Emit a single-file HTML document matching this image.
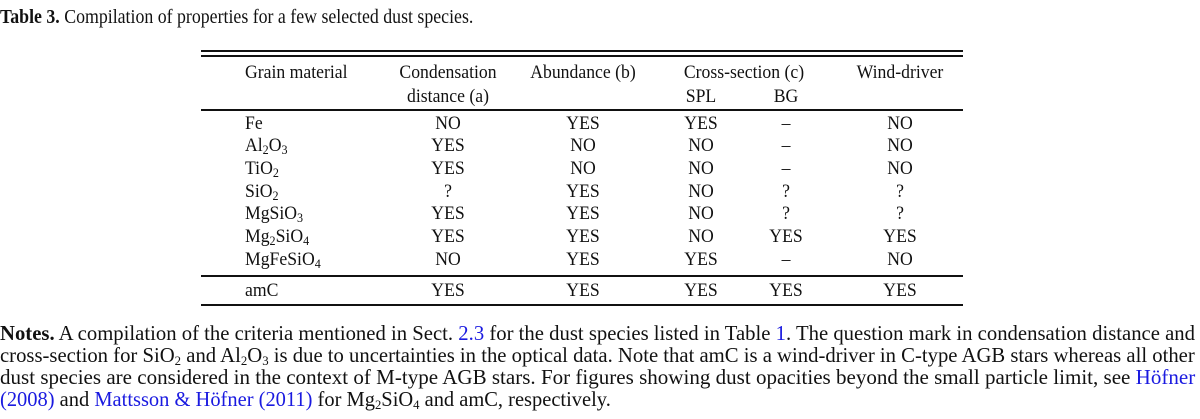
<!DOCTYPE html>
<html><head><meta charset="utf-8">
<style>
html,body{margin:0;padding:0;background:#fff;}
body{width:1200px;height:419px;position:relative;overflow:hidden;font-family:"Liberation Serif","DejaVu Serif",serif;color:#111;}
.fit{position:absolute;white-space:nowrap;font-size:21px;line-height:22px;transform-origin:0 50%;}
.c{position:absolute;white-space:nowrap;font-size:19px;line-height:22px;transform:translateX(-50%) scaleX(0.93);}
.l{position:absolute;white-space:nowrap;font-size:19px;line-height:22px;transform-origin:0 50%;transform:scaleX(0.93);}
.rule{position:absolute;left:201px;width:762px;background:#111;}
a{color:#1a1ae0;text-decoration:none;}
sub{font-size:13px;vertical-align:-3px;line-height:0;}
</style></head><body>
<div class="fit" data-w="473" style="left:0;top:6px;font-size:20px;"><b>Table 3.</b> Compilation of properties for a few selected dust species.</div>

<div class="rule" style="top:50px;height:2px;"></div>
<div class="rule" style="top:55px;height:2px;"></div>
<div class="rule" style="top:109px;height:2px;"></div>
<div class="rule" style="top:275px;height:2px;"></div>
<div class="rule" style="top:304px;height:2px;"></div>

<div class="l" style="left:245px;top:62px;">Grain material</div>
<div class="c" style="left:448px;top:62px;">Condensation</div>
<div class="c" style="left:448px;top:86px;">distance (a)</div>
<div class="c" style="left:583px;top:62px;">Abundance (b)</div>
<div class="c" style="left:744px;top:62px;">Cross-section (c)</div>
<div class="c" style="left:701px;top:86px;">SPL</div>
<div class="c" style="left:786px;top:86px;">BG</div>
<div class="c" style="left:900px;top:62px;">Wind-driver</div>

<div id="rows"></div>

<div class="fit" data-w="1195" style="left:0;top:322px;"><b>Notes.</b> A compilation of the criteria mentioned in Sect. <a>2.3</a> for the dust species listed in Table <a>1</a>. The question mark in condensation distance and</div>
<div class="fit" data-w="1195" style="left:0;top:344px;">cross-section for SiO<sub>2</sub> and Al<sub>2</sub>O<sub>3</sub> is due to uncertainties in the optical data. Note that amC is a wind-driver in C-type AGB stars whereas all other</div>
<div class="fit" data-w="1195" style="left:0;top:366px;">dust species are considered in the context of M-type AGB stars. For figures showing dust opacities beyond the small particle limit, see <a>Höfner</a></div>
<div class="fit" data-w="611" style="left:0;top:388px;"><a>(2008)</a> and <a>Mattsson &amp; Höfner</a> <a>(2011)</a> for Mg<sub>2</sub>SiO<sub>4</sub> and amC, respectively.</div>

<script>
const materials=["Fe","Al<sub>2</sub>O<sub>3</sub>","TiO<sub>2</sub>","SiO<sub>2</sub>","MgSiO<sub>3</sub>","Mg<sub>2</sub>SiO<sub>4</sub>","MgFeSiO<sub>4</sub>","amC"];
const condensation=["NO","YES","YES","?","YES","YES","NO","YES"];
const abundance=["YES","NO","NO","YES","YES","YES","YES","YES"];
const spl=["YES","NO","NO","NO","NO","NO","YES","YES"];
const bg=["–","–","–","?","?","YES","–","YES"];
const wind=["NO","NO","NO","?","?","YES","NO","YES"];
const rowTops=[113,135,158,181,203,226,249,280];
const cols=[[condensation,448,"condensation"],[abundance,583,"abundance"],[spl,701,"spl"],[bg,786,"bg"],[wind,900,"wind-driver"]];
const host=document.getElementById('rows');
materials.forEach((m,i)=>{
  const d=document.createElement('div');
  d.className='l';
  
  
  d.style.left='245px';d.style.top=rowTops[i]+'px';
  d.innerHTML=m;host.appendChild(d);
  cols.forEach(([arr,x,name])=>{
    const c=document.createElement('div');
    c.className='c';
    
    
    c.style.left=x+'px';c.style.top=rowTops[i]+'px';
    c.textContent=arr[i];host.appendChild(c);
  });
});
document.querySelectorAll('.fit').forEach(el=>{
  const w=+el.getAttribute('data-w');
  const nat=el.scrollWidth;
  el.style.transform='scaleX('+(w/nat)+')';
});
</script>
</body></html>
